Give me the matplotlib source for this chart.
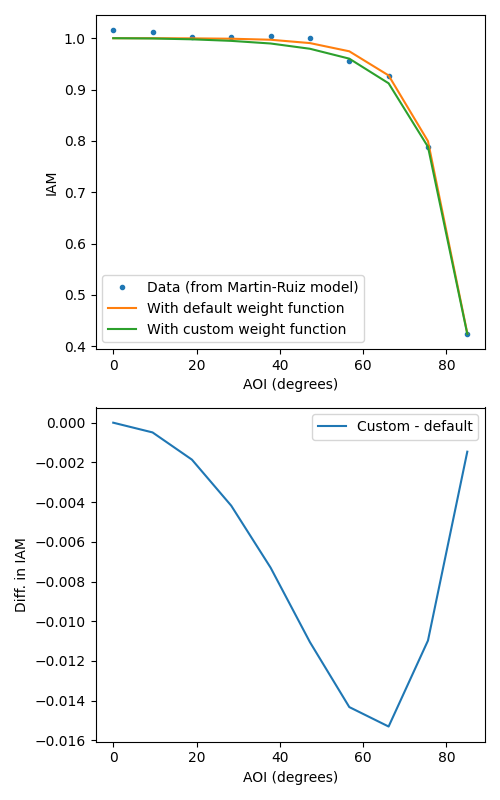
import matplotlib
matplotlib.use("Agg")
import matplotlib.pyplot as plt

# --- data ------------------------------------------------------------------

aoi = [0.0, 9.44, 18.89, 28.33, 37.78, 47.22, 56.67, 66.11, 75.56, 85.0]

iam_data = [1.0156, 1.0120, 1.0020, 1.0020, 1.0040, 1.0000,
            0.9550, 0.9260, 0.7880, 0.4240]

iam_default = [1.0000, 0.99995, 0.9997, 0.9990, 0.9970, 0.9905,
               0.9745, 0.9275, 0.7995, 0.4255]

iam_diff = [0.0, -0.00049, -0.00186, -0.00418, -0.0073, -0.01105,
            -0.01432, -0.0153, -0.01097, -0.00146]

# custom fit = default + difference
iam_custom = [d + c for d, c in zip(iam_default, iam_diff)]

# --- plot --------------------------------------------------------------------

fig, (ax1, ax2) = plt.subplots(2, 1, figsize=(5, 8), dpi=100)

ax1.plot(aoi, iam_data, ".", label="Data (from Martin-Ruiz model)")
ax1.plot(aoi, iam_default, label="With default weight function")
ax1.plot(aoi, iam_custom, label="With custom weight function")
ax1.set_xlabel("AOI (degrees)")
ax1.set_ylabel("IAM")
ax1.legend()

ax2.plot(aoi, iam_diff, label="Custom - default")
ax2.set_xlabel("AOI (degrees)")
ax2.set_ylabel("Diff. in IAM")
ax2.legend()

plt.tight_layout()
plt.savefig("out.png")
